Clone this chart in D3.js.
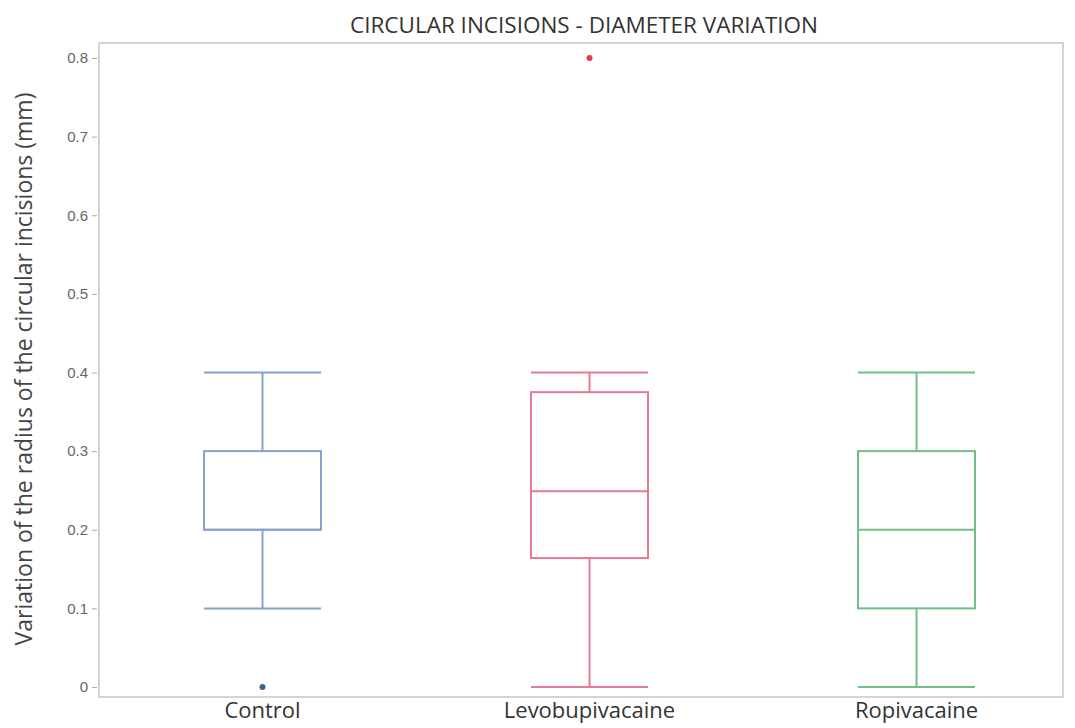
<!DOCTYPE html>
<html>
<head>
<meta charset="utf-8">
<script src="https://cdn.jsdelivr.net/npm/d3@7"></script>
<style>
  body { margin: 0; background: #fff; }
  svg { font-family: "Open Sans", "Noto Sans", sans-serif; }
</style>
</head>
<body>
<script>
// groups and their box statistics
var groups = ['Control', 'Levobupivacaine', 'Ropivacaine'];
var whiskerLow = [0.1, 0, 0];
var q1 = [0.2, 0.164, 0.1];
var median = [0.2, 0.249, 0.2];
var q3 = [0.3, 0.375, 0.3];
var whiskerHigh = [0.4, 0.4, 0.4];
var outliers = [[0], [0.8], []];
var yTicks = [0, 0.1, 0.2, 0.3, 0.4, 0.5, 0.6, 0.7, 0.8];
var colors = ['#84a2cf', '#e67a90', '#72bf8a'];
var outlierColors = ['#3d5f99', '#e0404a', '#3d9960'];

var width = 1075, height = 728;
var frame = {left: 99, top: 43, right: 1063, bottom: 697};

var svg = d3.select(document.body).append('svg')
    .attr('width', width)
    .attr('height', height);

var x = d3.scalePoint()
    .domain(groups)
    .range([99, 1080])
    .padding(0.5);

var y = d3.scaleLinear()
    .domain([0, 0.8])
    .range([687, 58]);

var boxW = 117;

// frame
svg.append('rect')
    .attr('x', frame.left)
    .attr('y', frame.top)
    .attr('width', frame.right - frame.left)
    .attr('height', frame.bottom - frame.top)
    .style('fill', 'none')
    .style('stroke', '#d4d4d4')
    .style('stroke-width', 2);

// y axis
var yAxis = svg.append('g')
    .attr('transform', 'translate(' + (frame.left - 2) + ',0)')
    .call(d3.axisLeft(y).tickValues(yTicks).tickSize(5).tickPadding(4)
      .tickFormat(function(d) { return d === 0 ? '0' : d3.format('.1f')(d); }));
yAxis.select('.domain').remove();
yAxis.selectAll('line').style('stroke', '#aaa');
yAxis.selectAll('text').style('fill', '#666').style('font-size', '15px');

// x labels
svg.append('g').selectAll('text')
  .data(groups)
  .enter().append('text')
    .attr('x', function(d) { return x(d); })
    .attr('y', 718)
    .attr('text-anchor', 'middle')
    .style('font-size', '22px')
    .style('fill', '#333')
    .text(function(d) { return d; });

// boxes
var box = svg.append('g').selectAll('g')
  .data(groups)
  .enter().append('g')
    .style('stroke', function(d, i) { return colors[i]; })
    .style('stroke-width', 2)
    .style('fill', 'none');

box.append('line')
    .attr('x1', function(d) { return x(d); })
    .attr('x2', function(d) { return x(d); })
    .attr('y1', function(d, i) { return y(whiskerLow[i]); })
    .attr('y2', function(d, i) { return y(q1[i]); });

box.append('line')
    .attr('x1', function(d) { return x(d); })
    .attr('x2', function(d) { return x(d); })
    .attr('y1', function(d, i) { return y(q3[i]); })
    .attr('y2', function(d, i) { return y(whiskerHigh[i]); });

box.append('line')
    .attr('x1', function(d) { return x(d) - boxW / 2; })
    .attr('x2', function(d) { return x(d) + boxW / 2; })
    .attr('y1', function(d, i) { return y(whiskerLow[i]); })
    .attr('y2', function(d, i) { return y(whiskerLow[i]); });

box.append('line')
    .attr('x1', function(d) { return x(d) - boxW / 2; })
    .attr('x2', function(d) { return x(d) + boxW / 2; })
    .attr('y1', function(d, i) { return y(whiskerHigh[i]); })
    .attr('y2', function(d, i) { return y(whiskerHigh[i]); });

box.append('rect')
    .attr('x', function(d) { return x(d) - boxW / 2; })
    .attr('y', function(d, i) { return y(q3[i]); })
    .attr('width', boxW)
    .attr('height', function(d, i) { return y(q1[i]) - y(q3[i]); });

box.append('line')
    .attr('x1', function(d) { return x(d) - boxW / 2; })
    .attr('x2', function(d) { return x(d) + boxW / 2; })
    .attr('y1', function(d, i) { return y(median[i]); })
    .attr('y2', function(d, i) { return y(median[i]); });

// outliers
box.each(function(d, i) {
  d3.select(this).selectAll('circle')
    .data(outliers[i])
    .enter().append('circle')
      .attr('cx', x(d))
      .attr('cy', function(v) { return y(v); })
      .attr('r', 3)
      .style('stroke', 'none')
      .style('fill', outlierColors[i]);
});

// title
svg.append('text')
    .attr('x', 584)
    .attr('y', 33)
    .attr('text-anchor', 'middle')
    .style('font-size', '22.5px')
    .style('fill', '#333')
    .text('CIRCULAR INCISIONS - DIAMETER VARIATION');

// y title
svg.append('text')
    .attr('transform', 'translate(32,' + 369 + ') rotate(-90)')
    .attr('text-anchor', 'middle')
    .style('font-size', '23px')
    .style('fill', '#444')
    .text('Variation of the radius of the circular incisions (mm)');
</script>
</body>
</html>
